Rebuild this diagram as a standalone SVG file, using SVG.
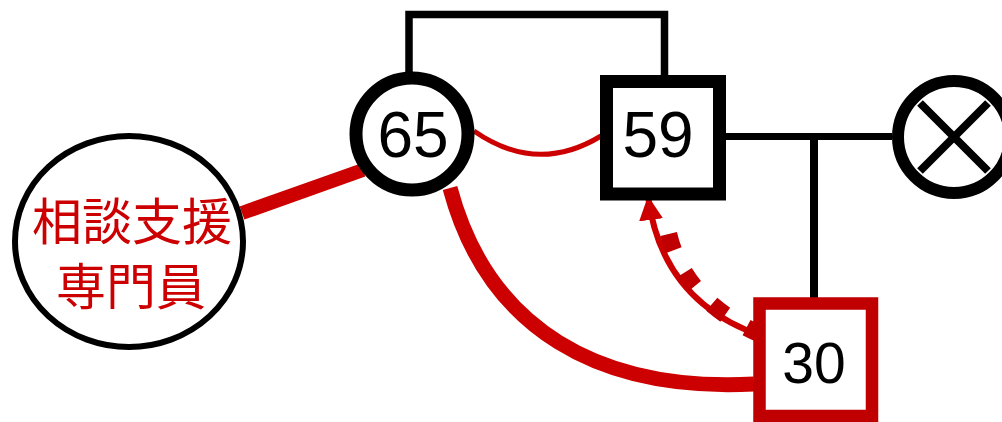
<svg xmlns="http://www.w3.org/2000/svg" width="1002" height="422" viewBox="0 0 1002 422">
<style>
.num{font-family:"Liberation Sans",Arial,sans-serif;fill:#000;text-anchor:middle}
.cjk{font-family:"Noto Sans CJK JP","Noto Sans CJK SC",sans-serif;fill:#CC0000;text-anchor:middle;font-size:50px}
.blk{fill:none;stroke:#000}
.red{fill:none;stroke:#CC0000}
</style>
<defs>
<marker id="ah" viewBox="0 0 10 10" refX="10" refY="5" markerWidth="4" markerHeight="4" orient="auto" markerUnits="strokeWidth">
<path d="M0,0 L10,5 L0,10 Z" fill="#CC0000"/>
</marker>
</defs>
<rect width="1002" height="422" fill="#fff"/>
<g id="connectors">
<path class="blk" stroke-width="7.5" d="M409,72 V14.5 H664.5 V78"/>
<path class="blk" stroke-width="7" d="M726,136.5 H892"/>
<path class="blk" stroke-width="8" d="M814,136.5 V298"/>
<path class="red" stroke-width="5" d="M474,131 Q537,175 601,136"/>
<path class="red" stroke-width="14" d="M242,213 L363,170"/>
<path class="red" stroke-width="15" d="M450,188 C488,330 600,392 754,384"/>
<path class="red" stroke-width="6" d="M768,338 Q662,305 648,196" marker-end="url(#ah)"/>
<path fill="none" stroke="#C00000" stroke-width="17" stroke-dasharray="17 25" d="M762,335 Q677,298 666,220"/>
</g>
<g id="n65">
<circle cx="412" cy="134" r="56" fill="#fff" stroke="#000" stroke-width="13"/>
<text class="num" x="413" y="157" font-size="64">65</text>
</g>
<g id="n59">
<rect x="606.5" y="81.5" width="113" height="112.5" fill="#fff" stroke="#000" stroke-width="13"/>
<text class="num" x="658" y="157" font-size="64">59</text>
</g>
<g id="n30">
<rect x="759.5" y="303.5" width="112.5" height="112.5" fill="#fff" stroke="#C00000" stroke-width="12.5"/>
<text class="num" x="814" y="383" font-size="57">30</text>
</g>
<g id="nX">
<circle cx="954" cy="137" r="56" fill="#fff" stroke="#000" stroke-width="12"/>
<path class="blk" stroke-width="8" d="M920,103 L988,171 M988,103 L920,171"/>
</g>
<g id="nStaff">
<ellipse cx="129" cy="241.5" rx="114" ry="105.5" fill="#fff" stroke="#000" stroke-width="6"/>
<text class="cjk" x="132" y="240">相談支援</text>
<text class="cjk" x="131" y="305">専門員</text>
</g>
</svg>
